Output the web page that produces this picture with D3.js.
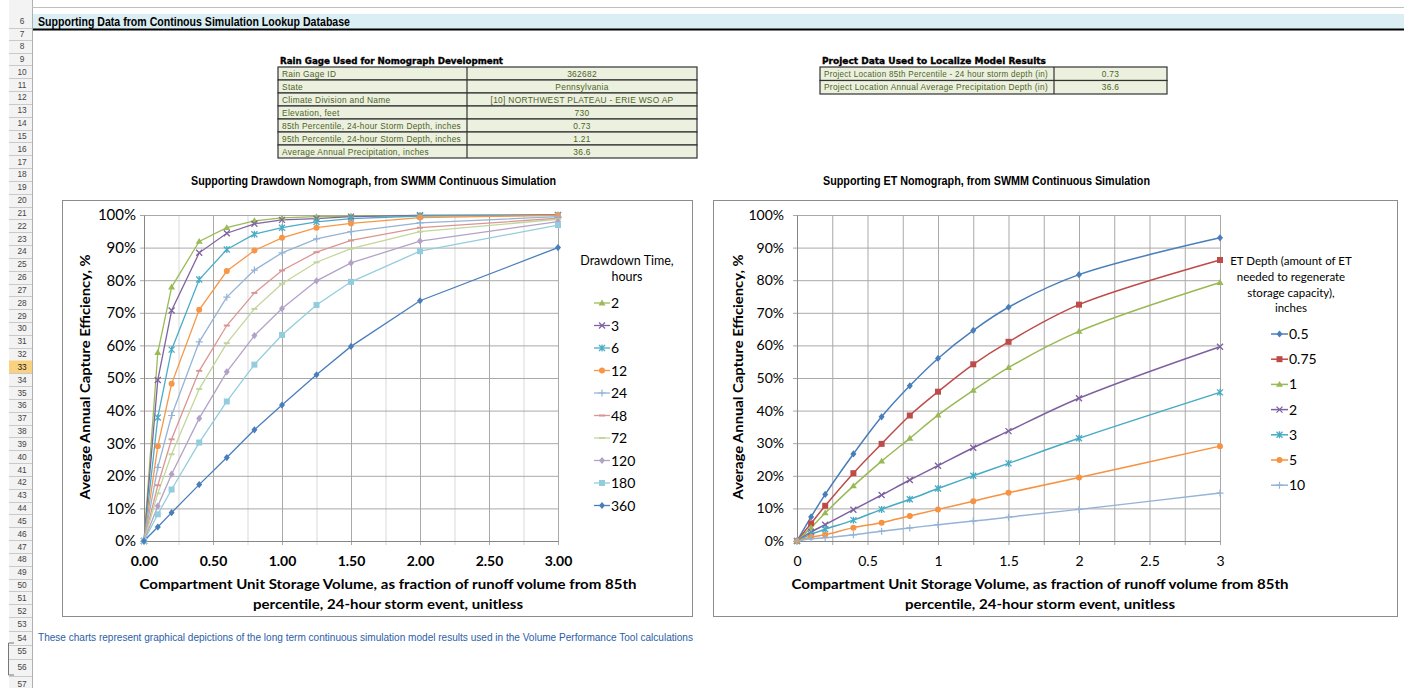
<!DOCTYPE html>
<html><head><meta charset="utf-8">
<script src="https://cdn.jsdelivr.net/npm/d3@7"></script>
<style>
html,body{margin:0;padding:0;background:#fff;overflow:hidden}
svg{display:block}
</style></head><body>
<svg id="c" width="1404" height="688"></svg>
<script>
// ================= DATA =================
const storageX = [0, 0.1, 0.2, 0.4, 0.6, 0.8, 1.0, 1.25, 1.5, 2.0, 3.0];

const drawdownNames = ["2", "3", "6", "12", "24", "48", "72", "120", "180", "360"];
const dd2   = [0, 57.8, 77.9, 91.9, 96.1, 98.2, 99.1, 99.5, 99.7, 99.9, 100];
const dd3   = [0, 49.4, 70.7, 88.4, 94.4, 97.3, 98.5, 98.9, 99.5, 99.9, 100];
const dd6   = [0, 37.9, 58.7, 80.2, 89.4, 94.1, 96.1, 97.9, 98.9, 99.7, 99.9];
const dd12  = [0, 29.1, 48.2, 70.9, 82.8, 89.1, 93.0, 96.1, 97.4, 99.2, 99.9];
const dd24  = [0, 22.6, 38.5, 61.1, 74.8, 83.1, 88.4, 92.7, 94.9, 97.6, 99.5];
const dd48  = [0, 17.1, 31.2, 52.2, 66.1, 76.1, 83.0, 88.6, 92.2, 96.1, 99.0];
const dd72  = [0, 14.6, 26.6, 46.6, 60.7, 71.2, 78.9, 85.5, 89.7, 94.9, 98.7];
const dd120 = [0, 10.7, 20.5, 37.6, 51.9, 63.0, 71.3, 79.8, 85.3, 92.0, 98.0];
const dd180 = [0, 8.2, 15.8, 30.2, 42.8, 54.1, 63.2, 72.4, 79.5, 88.9, 96.9];
const dd360 = [0, 4.3, 8.7, 17.3, 25.6, 34.1, 41.7, 51.0, 59.7, 73.7, 90.0];
const drawdownValues = [dd2, dd3, dd6, dd12, dd24, dd48, dd72, dd120, dd180, dd360];

const etNames = ["0.5", "0.75", "1", "2", "3", "5", "10"];
const et05  = [0, 7.4, 14.3, 26.7, 38.1, 47.6, 56.0, 64.6, 71.7, 81.7, 93.0];
const et075 = [0, 5.4, 10.8, 20.8, 29.8, 38.5, 45.8, 54.2, 61.1, 72.5, 86.2];
const et1   = [0, 4.1, 8.6, 16.9, 24.5, 31.5, 38.6, 46.2, 53.2, 64.3, 79.3];
const et2   = [0, 2.8, 5.0, 9.6, 14.1, 18.7, 23.1, 28.6, 33.7, 43.8, 59.6];
const et3   = [0, 2.1, 3.6, 6.4, 9.7, 12.8, 16.1, 20.0, 23.8, 31.5, 45.6];
const et5   = [0, 1.2, 1.9, 4.1, 5.6, 7.7, 9.7, 12.2, 14.8, 19.5, 29.1];
const et10  = [0, 0.7, 1.0, 1.9, 3.0, 4.0, 5.0, 6.1, 7.3, 9.7, 14.7];
const etValues = [et05, et075, et1, et2, et3, et5, et10];

const yTickValues = [0, 10, 20, 30, 40, 50, 60, 70, 80, 90, 100];
const xTickValues = [0, 0.5, 1, 1.5, 2, 2.5, 3];
const xGridValues = [0.25, 0.5, 0.75, 1, 1.25, 1.5, 1.75, 2, 2.25, 2.5, 2.75, 3];

const rainGageLabels = ["Rain Gage ID", "State", "Climate Division and Name", "Elevation, feet",
  "85th Percentile, 24-hour Storm Depth, inches", "95th Percentile, 24-hour Storm Depth, inches",
  "Average Annual Precipitation, inches"];
const rainGageValues = ["362682", "Pennsylvania", "[10] NORTHWEST PLATEAU - ERIE WSO AP", "730", "0.73", "1.21", "36.6"];
const projectLabels = ["Project Location 85th Percentile - 24 hour storm depth (in)",
  "Project Location Annual Average Precipitation Depth (in)"];
const projectValues = ["0.73", "36.6"];

const rowNumbers = d3.range(6, 58);

// ================= STYLE =================
const ddColors  = ["#9bbb59", "#8064a2", "#4bacc6", "#f79646", "#95b3d7", "#d99694", "#c3d69b", "#b3a2c7", "#93cddd", "#4a7ebb"];
const ddMarkers = ["triangle", "x", "star", "circle", "plus", "dash", "dash", "diamond", "square", "diamond"];
const etColors  = ["#4a7ebb", "#be4b48", "#98b954", "#7d60a0", "#46aac5", "#f69240", "#95b3d7"];
const etMarkers = ["diamond", "square", "triangle", "x", "star", "circle", "plus"];

const NARROW = "'Liberation Sans Narrow','Arial Narrow','Liberation Sans',Arial,sans-serif";
const CAL = "Lato,'Open Sans',sans-serif";
const SMALL = "'Liberation Sans',Arial,sans-serif";

const svg = d3.select("#c");

function fit(sel, w) { return sel.attr("textLength", w).attr("lengthAdjust", "spacingAndGlyphs"); }
function capWidth(sel, maxW) {
  const n = sel.node();
  if (n.getComputedTextLength() > maxW) fit(sel, maxW);
  return sel;
}

// ---------- spreadsheet row headers ----------
function rowY(n) {
  if (n === 6) return 21;
  if (n === 7) return 34;
  if (n === 8) return 46;
  if (n <= 53) return 59 + (n - 9) * 12.83;
  return {54: 638, 55: 651, 56: 667, 57: 684}[n];
}
const rh = svg.append("g");
rh.append("rect").attr("x", 9).attr("y", 0).attr("width", 23).attr("height", 688).attr("fill", "#f3f3f3");
rowNumbers.forEach((n, i) => {
  const y = rowY(n);
  const prev = i === 0 ? 7 : (rowY(n - 1) + y) / 2;
  const next = n === 57 ? 694 : (y + rowY(n + 1)) / 2;
  if (n === 33) rh.append("rect").attr("x", 9).attr("y", prev).attr("width", 23).attr("height", next - prev).attr("fill", "#f8d27f");
  rh.append("line").attr("x1", 9).attr("x2", 32).attr("y1", Math.round(next) + 0.5).attr("y2", Math.round(next) + 0.5).attr("stroke", "#c9c9c9");
  rh.append("text").attr("x", 22).attr("y", y + 3).attr("text-anchor", "middle")
    .attr("font-family", SMALL).attr("font-size", 8.3).attr("fill", n === 33 ? "#222" : "#444").text(n);
});
rh.append("line").attr("x1", 32.5).attr("x2", 32.5).attr("y1", 0).attr("y2", 688).attr("stroke", "#b0b0b0");
rh.append("path").attr("d", "M14,643 H8.5 V675 H14").attr("fill", "none").attr("stroke", "#777");

// ---------- header band ----------
svg.append("line").attr("x1", 32).attr("x2", 1404).attr("y1", 7.5).attr("y2", 7.5).attr("stroke", "#bfbfbf");
svg.append("rect").attr("x", 33).attr("y", 14).attr("width", 1371).attr("height", 15).attr("fill", "#daeef3");
svg.append("line").attr("x1", 33).attr("x2", 1404).attr("y1", 29.5).attr("y2", 29.5).attr("stroke", "#000").attr("stroke-width", 2);
fit(svg.append("text").attr("x", 38).attr("y", 25.5).attr("font-family", NARROW).attr("font-weight", "bold")
  .attr("font-size", 12.5).text("Supporting Data from Continous Simulation Lookup Database"), 312);

// ---------- tables ----------
function table(x0, xs, x1, y0, rh, title, titleW, labels, values) {
  const g = svg.append("g");
  fit(g.append("text").attr("x", x0 + 2).attr("y", y0 - 3).attr("font-family", "'DejaVu Sans',sans-serif")
    .attr("font-weight", "bold").attr("font-size", 9).attr("stroke", "#000").attr("stroke-width", 0.35).text(title), titleW);
  labels.forEach((lab, i) => {
    const y = y0 + i * rh;
    g.append("rect").attr("x", x0).attr("y", y).attr("width", x1 - x0).attr("height", rh)
      .attr("fill", "#ebf1de").attr("stroke", "#333").attr("stroke-width", 1.2);
    g.append("line").attr("x1", xs).attr("x2", xs).attr("y1", y).attr("y2", y + rh).attr("stroke", "#333").attr("stroke-width", 1.2);
    capWidth(g.append("text").attr("x", x0 + 4).attr("y", y + rh / 2 + 3.2).attr("font-family", SMALL).attr("font-size", 8.4)
      .attr("letter-spacing", 0.3).attr("fill", "#4f6228").text(lab), xs - x0 - 10);
    capWidth(g.append("text").attr("x", (xs + x1) / 2).attr("y", y + rh / 2 + 3.2).attr("text-anchor", "middle")
      .attr("font-family", SMALL).attr("font-size", 8.4).attr("letter-spacing", 0.3).attr("fill", "#4f6228").text(values[i]), x1 - xs - 14);
  });
}
table(278, 467, 697, 67, 13, "Rain Gage Used for Nomograph Development", 223, rainGageLabels, rainGageValues);
table(820, 1054, 1167, 67, 13.5, "Project Data Used to Localize Model Results", 224, projectLabels, projectValues);

// ---------- markers ----------
function marker(g, type, x, y, color, s) {
  switch (type) {
    case "diamond":
      g.append("path").attr("d", `M${x},${y - s - 0.6}L${x + s},${y}L${x},${y + s + 0.6}L${x - s},${y}Z`).attr("fill", color); break;
    case "square":
      g.append("rect").attr("x", x - s).attr("y", y - s).attr("width", 2 * s).attr("height", 2 * s).attr("fill", color); break;
    case "triangle":
      g.append("path").attr("d", `M${x},${y - s - 0.5}L${x + s + 0.5},${y + s * 0.8}L${x - s - 0.5},${y + s * 0.8}Z`).attr("fill", color); break;
    case "circle":
      g.append("circle").attr("cx", x).attr("cy", y).attr("r", s).attr("fill", color); break;
    case "x":
      g.append("path").attr("d", `M${x - s},${y - s}L${x + s},${y + s}M${x - s},${y + s}L${x + s},${y - s}`).attr("stroke", color).attr("stroke-width", 1.3); break;
    case "star":
      g.append("path").attr("d", `M${x - s},${y - s}L${x + s},${y + s}M${x - s},${y + s}L${x + s},${y - s}M${x},${y - s - 0.5}L${x},${y + s + 0.5}`).attr("stroke", color).attr("stroke-width", 1.3); break;
    case "plus":
      g.append("path").attr("d", `M${x - s - 0.5},${y}L${x + s + 0.5},${y}M${x},${y - s - 0.5}L${x},${y + s + 0.5}`).attr("stroke", color).attr("stroke-width", 1.2); break;
    case "dash":
      g.append("path").attr("d", `M${x - s},${y}L${x + s},${y}`).attr("stroke", color).attr("stroke-width", 2); break;
  }
}

// ---------- chart builder ----------
function chart(cfg) {
  const g = svg.append("g");
  g.append("rect").attr("x", cfg.box[0] + 0.5).attr("y", cfg.box[1] + 0.5).attr("width", cfg.box[2]).attr("height", cfg.box[3])
    .attr("fill", "#fff").attr("stroke", "#8c8c8c");
  fit(g.append("text").attr("x", cfg.titleX).attr("y", 185).attr("font-family", NARROW).attr("font-weight", "bold")
    .attr("font-size", 12).text(cfg.title), cfg.titleW);

  const x = d3.scaleLinear().domain([0, 3]).range([cfg.px0, cfg.px1]);
  const y = d3.scaleLinear().domain([0, 100]).range([541, 215]);
  const ph = 541 - 215;

  // vertical gridlines
  const gx = g.append("g").attr("transform", "translate(0,541)")
    .call(d3.axisBottom(x).tickValues(xGridValues).tickSize(-ph).tickFormat(""));
  gx.select(".domain").remove();
  gx.selectAll(".tick line").attr("stroke", d => (cfg.minorLight && (d * 2) % 1 !== 0) ? "#d9d9d9" : "#a9a9a9")
    .attr("y1", 4);
  // horizontal gridlines
  const gy = g.append("g").attr("transform", `translate(${cfg.px0},0)`)
    .call(d3.axisLeft(y).tickValues(yTickValues).tickSize(-(cfg.px1 - cfg.px0)).tickFormat(""));
  gy.select(".domain").remove();
  gy.selectAll(".tick line").attr("stroke", "#a9a9a9").attr("x1", -4);

  // axis labels
  const ay = g.append("g").attr("transform", `translate(${cfg.px0},0)`)
    .call(d3.axisLeft(y).tickValues(yTickValues).tickSize(0).tickPadding(cfg.yPad).tickFormat(d => d + "%"));
  ay.select(".domain").attr("stroke", "#868686");
  ay.selectAll("text").attr("font-family", CAL).attr("font-size", cfg.yFont).attr("fill", "#000");
  const ax = g.append("g").attr("transform", "translate(0,541)")
    .call(d3.axisBottom(x).tickValues(xTickValues).tickSize(0).tickPadding(cfg.xPad).tickFormat(cfg.xFmt));
  ax.select(".domain").attr("stroke", "#868686");
  ax.selectAll("text").attr("font-family", CAL).attr("font-size", cfg.xFont).attr("font-weight", cfg.xWeight).attr("fill", "#000");

  // axis titles
  fit(g.append("text").attr("x", cfg.xtC).attr("y", 589).attr("text-anchor", "middle").attr("font-family", CAL)
    .attr("font-weight", "bold").attr("font-size", 14).text("Compartment Unit Storage Volume,  as fraction of runoff volume from 85th"), 497);
  fit(g.append("text").attr("x", cfg.xtC).attr("y", 609).attr("text-anchor", "middle").attr("font-family", CAL)
    .attr("font-weight", "bold").attr("font-size", 14).text("percentile, 24-hour storm event, unitless"), 270);
  fit(g.append("text").attr("transform", `translate(${cfg.ytX},377) rotate(-90)`).attr("text-anchor", "middle")
    .attr("font-family", CAL).attr("font-weight", "bold").attr("font-size", 13.5).text("Average Annual Capture Efficiency, %"), 245);

  // series
  const line = d3.line().x((d, i) => x(storageX[i])).y(d => y(d)).curve(cfg.curve);
  cfg.values.forEach((vals, k) => {
    g.append("path").attr("d", line(vals)).attr("fill", "none").attr("stroke", cfg.colors[k]).attr("stroke-width", cfg.lw);
  });
  cfg.values.forEach((vals, k) => {
    const mg = g.append("g");
    vals.forEach((v, i) => marker(mg, cfg.markers[k], x(storageX[i]), y(v), cfg.colors[k], cfg.ms));
  });

  // legend
  const lg = g.append("g");
  cfg.legTitle.forEach((t, i) => {
    lg.append("text").attr("x", cfg.legTitleX).attr("y", cfg.legTitleY[i] + 4).attr("text-anchor", "middle")
      .attr("font-family", CAL).attr("font-size", cfg.legTitleFont).text(t);
  });
  cfg.names.forEach((n, k) => {
    const yy = cfg.legY0 + k * cfg.legDy;
    lg.append("line").attr("x1", cfg.legX0).attr("x2", cfg.legX1).attr("y1", yy).attr("y2", yy)
      .attr("stroke", cfg.colors[k]).attr("stroke-width", cfg.lw);
    marker(lg, cfg.markers[k], (cfg.legX0 + cfg.legX1) / 2, yy, cfg.colors[k], cfg.ms);
    lg.append("text").attr("x", cfg.legX1 + 1).attr("y", yy + 5).attr("font-family", CAL).attr("font-size", 14)
      .attr("fill", "#000").text(n);
  });
}

chart({
  box: [62, 200, 630, 416], px0: 144, px1: 558,
  title: "Supporting Drawdown Nomograph, from SWMM Continuous Simulation", titleX: 191, titleW: 365,
  yPad: 8, yFont: 15, xPad: 15, xFont: 14, xWeight: "bold", xFmt: d3.format(".2f"),
  xtC: 388, ytX: 90, minorLight: true,
  values: drawdownValues, names: drawdownNames, colors: ddColors, markers: ddMarkers,
  curve: d3.curveLinear, lw: 1.3, ms: 3,
  legTitle: ["Drawdown Time,", "hours"], legTitleX: 627, legTitleY: [261, 277], legTitleFont: 12.5,
  legY0: 303, legDy: 22.5, legX0: 594, legX1: 610
});

chart({
  box: [713, 200, 684, 416], px0: 797, px1: 1220,
  title: "Supporting ET Nomograph, from SWMM Continuous Simulation", titleX: 823, titleW: 327,
  yPad: 13, yFont: 14, xPad: 15, xFont: 14, xWeight: "normal", xFmt: d => String(d),
  xtC: 1040, ytX: 743, minorLight: false,
  values: etValues, names: etNames, colors: etColors, markers: etMarkers,
  curve: d3.curveCatmullRom.alpha(0.5), lw: 1.5, ms: 3,
  legTitle: ["ET Depth (amount of ET", "needed to regenerate", "storage capacity),", "inches"], legTitleX: 1291,
  legTitleY: [261, 277, 293, 308], legTitleFont: 11.5,
  legY0: 334, legDy: 25.2, legX0: 1271, legX1: 1288
});

// ---------- footnote ----------
fit(svg.append("text").attr("x", 38).attr("y", 641).attr("font-family", NARROW).attr("font-size", 11.5)
  .attr("fill", "#2a5ea8").text("These charts represent graphical depictions of the long term continuous simulation model results used in the Volume Performance Tool calculations"), 655);
</script>
</body></html>
